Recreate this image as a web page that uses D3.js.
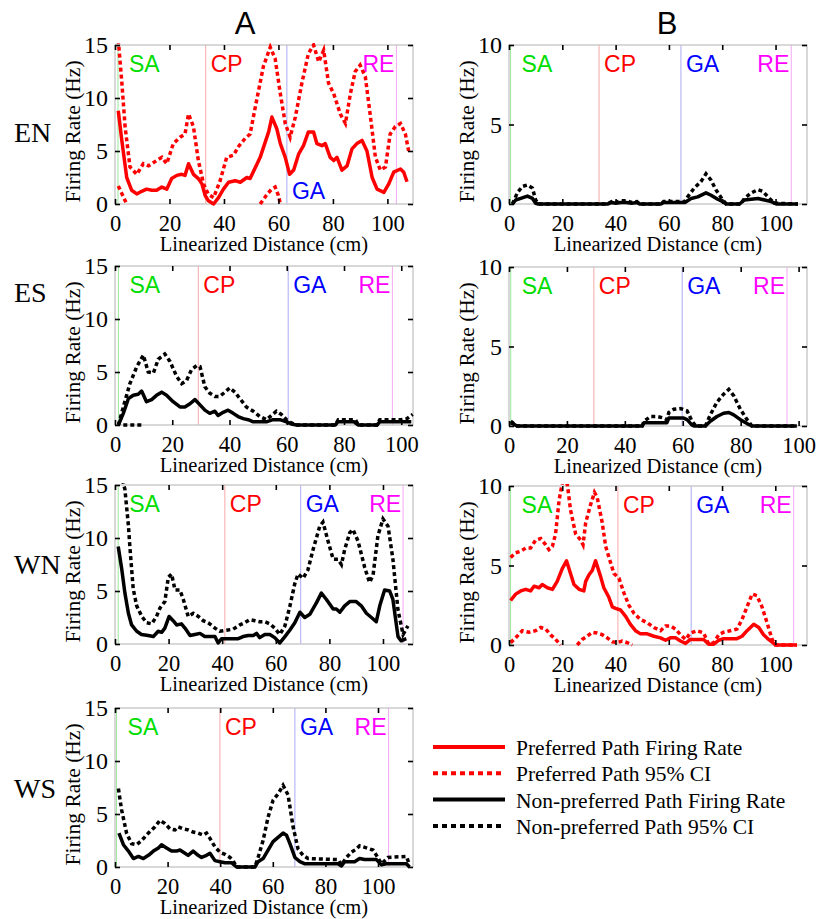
<!DOCTYPE html>
<html>
<head>
<meta charset="utf-8">
<script src="https://cdn.jsdelivr.net/npm/d3@7"></script>
<style>
  body { margin: 0; background: #fff; }
  svg { display: block; }
</style>
</head>
<body>
<div id="chart"></div>
<script>
// values: [distance cm, firing rate Hz]; null = hidden below 0

const regionNames = ["SA", "CP", "GA", "RE"];
const regionColors = ["#00dd00", "#ff0000", "#0000ff", "#ff00ff"];
const regionLineColors = ["#9be89b", "#f6a8a8", "#aaaaf4", "#f4a8f4"];

const xTicks = [0, 20, 40, 60, 80, 100];
const yTicksA = [0, 5, 10, 15];
const yTicksB = [0, 5, 10];

// region boundaries per panel (cm)
const enA_regions = [1.1, 33.3, 63.1, 103.3];
const esA_regions = [1.2, 29.1, 60.5, 96.9];
const wnA_regions = [1.2, 41.0, 69.3, 107.5];
const wsA_regions = [0.6, 39.9, 68.4, 104.0];
const enB_regions = [0.6, 33.8, 64.5, 105.9];
const esB_regions = [0.6, 29.3, 59.8, 96.0];
const wnB_regions = [0.6, 40.9, 68.4, 106.9];

// EN, column A (preferred path)
const enA_rate = [[1.2,8.8],[2.5,6.0],[4.3,2.5],[6.1,1.3],[8,0.95],[9.8,1.2],[11.6,1.4],[13.5,1.3],[15.3,1.3],[17.2,1.6],[19,1.4],[20.8,2.4],[22.7,2.7],[24.5,2.8],[25.7,2.7],[27,3.8],[28.8,2.8],[30.6,2.4],[31.9,1.9],[33.1,0.8],[34.3,0.3],[36.2,0],[38,0.6],[39.8,1.4],[41.7,2.05],[44.1,2.2],[46,2.05],[48.4,2.5],[49.6,2.4],[53.3,4.4],[56.4,6.8],[57.6,8.2],[59.4,7.1],[60.7,5.7],[62.5,4.4],[64.1,2.8],[65.6,3.2],[67.4,4.7],[69.2,5.5],[71,6.8],[72.9,6.8],[74.1,5.7],[76,5.5],[77.2,5.7],[79,4.4],[80.3,4.1],[81.5,4.4],[83.3,3.2],[85.2,3.6],[87,5.2],[88.8,5.7],[90.7,6.0],[92.5,5.0],[94.4,2.5],[96.2,1.4],[98.7,1.1],[100.5,1.9],[102.3,3.0],[104.8,3.3],[106,3.0],[107.2,2.1]];
const enA_upper = [[1.2,15.5],[2.5,11.5],[3.7,7.3],[5.5,3.5],[8,2.8],[10.4,3.8],[12.3,3.6],[15.3,4.1],[17.2,4.4],[19,3.8],[21.4,5.7],[23.9,6.3],[25.7,6.6],[27,8.5],[28.8,7.3],[30.6,4.1],[32.5,1.9],[34.3,0.9],[36.2,0.6],[38.6,2.2],[41,4.4],[43.5,4.6],[45.3,5.4],[47.8,6.2],[49.6,6.6],[52,9.8],[54.5,13],[57,14.8],[58.8,13.7],[60.7,10.4],[62.5,7.6],[64.3,6.3],[66.2,8.2],[68.6,11.4],[71,14.2],[72.9,15],[74.8,13.4],[76.6,14.5],[78.4,11.4],[80.3,10.4],[82.7,8.5],[84.6,7.6],[86.4,10.4],[88.2,12.5],[90,13.1],[91.9,12],[93.8,8.2],[95.6,4.4],[97.4,3.2],[99.3,3.5],[101,6.6],[102.9,7.3],[104.8,7.6],[106.6,6.6],[107.8,5]];
const enA_lower = [[1.2,1.7],[2.5,1.0],[4.3,0],null,[53.3,0],[55.8,0.9],[57.5,1.4],[58.8,1.6],[60,0.8],[60.7,0]];

// ES, column A (non-preferred path)
const esA_rate = [[1.2,0],[2.9,1.1],[4.7,2.5],[6.4,2.8],[8.1,2.9],[9.3,3.2],[11,2.2],[12.8,2.4],[14.5,2.8],[16.3,3.1],[18,2.8],[20.3,2.2],[22.7,1.7],[24.4,1.7],[26.2,2.0],[27.9,2.4],[29.7,1.9],[31.4,1.4],[33.1,1.1],[34.9,1.3],[36,0.9],[37.8,1.2],[39.5,1.4],[41.3,1.1],[43,0.8],[44.8,0.6],[46.5,0.5],[48.3,0.3],[52.9,0.3],[55.2,0.5],[57.6,0.5],[59.9,0.3],[61.6,0.1],[63.4,0],[77,0],[77.8,0.3],[83.5,0.3],[85,0],[91.5,0],[92.5,0.3],[103.5,0.3]];
const esA_upper = [[1.2,0],[2.9,1.7],[5.2,3.9],[7.6,5.5],[9.9,6.6],[11.6,5.0],[13.4,4.9],[15.1,6.2],[17.4,6.7],[19.2,6.0],[21.5,4.6],[23.3,3.9],[25,4.2],[26.7,5.2],[28.5,5.6],[29.7,5.5],[31.4,3.6],[33.1,3.0],[34.9,2.7],[36.6,2.7],[38.4,3.1],[40.1,3.5],[41.9,3.1],[43.6,2.5],[45.9,1.7],[48.3,1.3],[50.6,0.8],[52.9,0.5],[54.7,0.9],[56.4,1.3],[58.1,1.0],[59.9,0.5],[61.6,0.2],[63,0],[77,0],[78,0.5],[84,0.5],[85,0],[91.5,0],[92.5,0.5],[100,0.5],[102,0.6],[104,1.0]];
const esA_lower = [[2.9,0],[10,0]];

// WN, column A (non-preferred path)
const wnA_rate = [[1.2,9.2],[2.5,7.1],[3.7,4.8],[5,2.9],[6.2,1.8],[8.1,1.2],[9.9,0.9],[12.4,0.8],[14.3,0.7],[16.1,1.2],[17.4,1.1],[18.6,1.5],[20.2,2.6],[21.7,2.2],[23,1.8],[24.8,1.9],[26.1,1.5],[28,0.8],[29.8,0.9],[31.7,1.0],[33.5,0.7],[35.4,0.7],[37.3,0.7],[38.5,0.1],[39.8,0.5],[41.6,0.5],[44.1,0.5],[46,0.5],[47.8,0.7],[49.7,0.8],[51.6,0.8],[52.8,1.0],[54,0.6],[55.9,0.9],[57.8,0.9],[59.6,0.6],[61.5,0.1],[63.4,0.7],[65.2,1.3],[67.1,2.0],[69,3.0],[70.8,2.5],[72.7,2.8],[75.2,3.9],[77,4.8],[78.9,4.2],[81.4,3.3],[82.6,3.3],[83.9,3.0],[85.7,3.6],[87.6,4.0],[90,4.0],[91.9,3.6],[93.8,2.9],[95.7,2.5],[97.5,2.1],[98.8,3.6],[100.6,5.1],[102.5,5.0],[103.7,4.2],[105.6,0.7],[106.8,0.3],[108.7,0.5]];
const wnA_upper = [[2.8,15.5],[3.7,14.6],[4.3,13.0],[5,11.2],[5.6,9.0],[6.2,7.1],[6.8,5.2],[8.1,3.6],[10,2.6],[11.8,2.0],[13.7,1.9],[15.5,2.6],[16.8,3.4],[18.6,4.0],[19.9,6.3],[21.1,6.6],[22.4,5.1],[24.2,5.1],[25.5,4.2],[27.3,2.6],[29.2,2.9],[31.1,2.6],[32.9,2.2],[34.8,2.0],[37.3,1.5],[39.1,1.2],[41.6,1.3],[44.1,1.4],[46.6,1.8],[48.4,2.0],[50.3,2.3],[52.2,2.2],[54,2.1],[55.9,2.1],[57.8,1.9],[59.6,1.5],[61.5,0.9],[63.4,1.7],[65.2,3.5],[67.1,5.7],[68.3,6.6],[70.2,6.2],[72,7.0],[73.9,8.9],[76.4,11.1],[77.6,11.5],[79.5,9.7],[81.4,8.0],[83.2,8.0],[84.5,7.5],[85.7,8.9],[87.6,10.5],[88.8,10.8],[90.7,9.7],[93.2,7.2],[95,5.8],[96.3,6.5],[98.1,10.2],[100,11.8],[101.9,11.1],[103.7,8.0],[105.6,3.2],[107.5,0.9],[109.3,1.7]];

// WS, column A (non-preferred path)
const wsA_rate = [[1.5,3.2],[3.2,2.1],[5.1,1.5],[7,0.8],[8.9,1.0],[10.8,0.8],[12.7,1.1],[14.6,1.5],[16.5,1.8],[17.7,2.1],[19.6,1.8],[21.5,1.5],[23.4,1.5],[24.7,1.6],[26.6,1.3],[27.8,1.1],[29.7,1.5],[31.6,1.1],[32.9,0.9],[34.8,1.1],[36.1,1.3],[38,0.6],[39.9,0.5],[41.8,0.4],[44.3,0.4],[46.2,0],[53.2,0],[54.4,0.5],[56.3,0.8],[58.2,1.6],[60.1,2.4],[62,2.8],[63.9,3.2],[65.2,3.0],[66.5,2.2],[68.4,0.9],[70.3,0.5],[72.2,0.3],[84.8,0.3],[86.1,0.1],[87.3,0.5],[91.1,0.5],[93,0.8],[94.9,0.7],[99.4,0.7],[101.3,0.2],[103.2,0.3],[110.8,0.3],[112,0]];
const wsA_upper = [[1.3,7.4],[2.5,5.4],[4.4,3.2],[6.3,2.2],[8.2,2.1],[10.1,2.5],[12.7,3.2],[15.2,3.8],[17.1,4.4],[19,4.1],[20.9,3.6],[22.8,3.5],[24,3.8],[25.9,3.6],[27.8,3.5],[29.7,3.3],[31.6,3.2],[33.5,3.0],[34.8,3.2],[36.1,2.7],[38,1.9],[39.9,1.4],[41.8,1.2],[43.7,0.9],[44.9,0.6],[46.2,0],[53.2,0],[54.4,0.9],[56.3,2.5],[58.2,4.7],[60.1,6.3],[62,6.9],[63.9,7.7],[65.8,6.8],[67.7,3.8],[69.6,1.7],[71.5,1.1],[73.4,0.8],[84.8,0.7],[86.1,0.2],[88,0.9],[89.9,1.4],[91.8,1.7],[93,2.0],[95.6,1.8],[98.1,1.6],[99.4,1.1],[101.3,0.3],[103.8,0.9],[110.8,1.0],[112,0.2]];

// EN, column B (non-preferred path)
const enB_rate = [[1.3,0],[2.5,0.25],[4.4,0.35],[6.9,0.5],[8.8,0.35],[10,0.05],[11,0],[37,0],[38.5,0.1],[40,0.05],[42,0.1],[44,0.1],[46,0.05],[48,0.1],[49,0],[57,0],[58,0.1],[66,0.1],[68.3,0.35],[70.8,0.45],[73.9,0.7],[75.8,0.55],[78.3,0.3],[80.2,0.15],[81.5,0],[86.5,0],[88.3,0.25],[90.9,0.3],[93.4,0.35],[95.9,0.25],[98.4,0.15],[100.3,0],[108.4,0]];
const enB_upper = [[1.3,0],[3.1,0.7],[5,1.1],[6.9,1.2],[8.8,1.0],[10,0.25],[11,0],[37,0],[38.5,0.15],[40,0.1],[42,0.2],[44,0.2],[46,0.1],[48,0.15],[49,0],[57,0],[58,0.15],[66,0.15],[67,0.45],[69.5,1.0],[72,1.4],[73.9,1.9],[75.8,1.5],[77.6,0.9],[80.2,0.25],[81.5,0],[87,0],[88.3,0.35],[90.9,0.7],[93.4,0.9],[95.2,0.8],[97.7,0.35],[99.6,0.05],[108.4,0]];

// ES, column B (non-preferred path)
const esB_rate = [[0.6,0.2],[1.7,0.1],[2.8,0],[46,0],[46.6,0.2],[54.5,0.2],[55.2,0.5],[60.3,0.5],[61.5,0.4],[63.2,0.05],[64,0],[67.8,0],[69.5,0.3],[71.8,0.6],[74.1,0.8],[75.9,0.85],[77.6,0.7],[79.9,0.4],[82.2,0.15],[83.9,0],[99.4,0]];
const esB_upper = [[0.6,0.3],[1.7,0.15],[2.8,0],[46,0],[46.6,0.3],[48.9,0.6],[51.1,0.6],[53.5,0.5],[54.5,0.4],[55.2,0.85],[56.9,1.05],[59.2,1.1],[61.5,0.95],[63.2,0.3],[64.5,0],[67.8,0],[69.5,0.7],[71.8,1.5],[74.1,2.0],[75.9,2.3],[77.6,1.9],[79.9,1.05],[82.2,0.4],[83.9,0],[99.4,0]];

// WN, column B (preferred path)
const wnB_rate = [[0.6,2.8],[2.5,3.2],[4.4,3.4],[6.3,3.5],[8.1,3.4],[9.4,3.7],[11.3,3.6],[12.5,3.8],[14.4,3.6],[16.3,3.5],[18.1,4.0],[20,4.8],[21.6,5.3],[23.1,4.5],[24.4,3.8],[26.3,3.5],[28.1,3.4],[28.8,4.0],[30,4.4],[31.3,4.7],[32.5,5.3],[34.4,4.3],[35.6,3.6],[37.5,3.0],[38.8,2.4],[40,2.3],[41.9,2.2],[43.8,1.8],[45.6,1.3],[47.5,0.9],[49.4,0.7],[51.9,0.7],[54.4,0.55],[56.9,0.45],[58.8,0.3],[60.6,0.45],[62.5,0.45],[64.4,0.25],[66.3,0.1],[68.1,0.35],[73.1,0.35],[75,0.05],[76.9,0.05],[78.8,0.3],[80.6,0.4],[85.6,0.4],[87.5,0.55],[89.4,0.9],[91.9,1.3],[93.8,1.1],[95.6,0.65],[97.5,0.35],[99.4,0.1],[100.6,0],[108.1,0]];
const wnB_upper = [[0.6,5.5],[2.5,5.8],[4.4,5.9],[6.3,6.1],[8.1,6.1],[10,6.6],[11.9,6.7],[13.8,6.3],[15,6.0],[16.3,6.2],[17.5,7.0],[18.8,9.1],[20,10.2],[21.2,10.3],[21.9,10.1],[23.1,8.5],[25,7.0],[26.9,6.6],[27.8,6.3],[28.8,7.7],[30.6,8.8],[32.1,9.6],[33.1,9.3],[35,7.7],[36.3,6.2],[38.1,5.2],[39.4,4.5],[41.3,4.2],[43.1,3.3],[45,2.5],[46.9,2.0],[49.4,1.6],[51.9,1.4],[54.4,1.1],[56.9,0.9],[58.8,1.2],[60.6,1.2],[62.5,1.0],[64.4,0.65],[66.3,0.35],[68.1,0.75],[70.6,0.9],[73.1,0.75],[75,0.05],[76.9,0.15],[78.8,0.65],[80.6,0.8],[83.1,0.9],[85.6,1.0],[87.5,1.6],[89.4,2.4],[91.3,3.2],[93.1,3.1],[95,2.4],[96.9,1.4],[98.8,0.35],[100,0],[108.1,0]];
const wnB_lower = [[0.6,0.15],[2.5,0.45],[5,0.9],[7.5,0.8],[10,0.9],[11.9,1.1],[13.8,1.0],[15.6,0.65],[17.5,0.35],[19.4,0],null,[25.6,0],[27.5,0.35],[29.4,0.55],[31.3,0.8],[33.1,0.75],[35,0.65],[36.9,0.45],[38.8,0.2],[40.6,0.15],[42.5,0.25],[44.4,0.15],[46.3,0]];

const legendLabels = ["Preferred Path Firing Rate", "Preferred Path 95% CI", "Non-preferred Path Firing Rate", "Non-preferred Path 95% CI"];

// ---------------------------------------------------------------

const serif = "'Liberation Serif', 'Times New Roman', serif";
const sans = "'Liberation Sans', Arial, sans-serif";
const RED = "#ff0000", BLACK = "#000000";

const svg = d3.select("#chart").append("svg")
  .attr("width", 820)
  .attr("height", 919);

const panelW = 298, panelH = 159;

const panels = [
  { id: "enA", left: 115, top: 45,  xMax: 109.4, yMax: 15, yTicks: yTicksA, regions: enA_regions, color: RED,   rate: enA_rate, upper: enA_upper, lower: enA_lower, gaLow: true },
  { id: "esA", left: 115, top: 266, xMax: 104.1, yMax: 15, yTicks: yTicksA, regions: esA_regions, color: BLACK, rate: esA_rate, upper: esA_upper, lower: esA_lower },
  { id: "wnA", left: 115, top: 485, xMax: 111.2, yMax: 15, yTicks: yTicksA, regions: wnA_regions, color: BLACK, rate: wnA_rate, upper: wnA_upper, lower: [] },
  { id: "wsA", left: 115, top: 708, xMax: 113.3, yMax: 15, yTicks: yTicksA, regions: wsA_regions, color: BLACK, rate: wsA_rate, upper: wsA_upper, lower: [] },
  { id: "enB", left: 509, top: 45,  xMax: 111.8, yMax: 10, yTicks: yTicksB, regions: enB_regions, color: BLACK, rate: enB_rate, upper: enB_upper, lower: [] },
  { id: "esB", left: 509, top: 267, xMax: 102.9, yMax: 10, yTicks: yTicksB, regions: esB_regions, color: BLACK, rate: esB_rate, upper: esB_upper, lower: [] },
  { id: "wnB", left: 509, top: 486, xMax: 111.9, yMax: 10, yTicks: yTicksB, regions: wnB_regions, color: RED,   rate: wnB_rate, upper: wnB_upper, lower: wnB_lower }
];

panels.forEach(p => {
  const g = svg.append("g").attr("transform", `translate(${p.left},${p.top})`);
  const x = d3.scaleLinear().domain([0, p.xMax]).range([0, panelW]);
  const y = d3.scaleLinear().domain([0, p.yMax]).range([panelH, 0]);

  g.append("clipPath").attr("id", "clip-" + p.id)
    .append("rect").attr("x", -2).attr("y", -2).attr("width", panelW + 4).attr("height", panelH + 4);

  // region boundaries
  g.selectAll(".region").data(p.regions).join("line")
    .attr("x1", d => x(d)).attr("x2", d => x(d))
    .attr("y1", 0).attr("y2", panelH)
    .attr("stroke", (d, i) => regionLineColors[i])
    .attr("stroke-width", 1);

  // region labels
  g.selectAll(".rlabel").data(p.regions).join("text")
    .attr("x", (d, i) => i === 0 ? x(d) + 11 : (i === 3 ? x(d) - 2 : x(d) + 5))
    .attr("y", (d, i) => (i === 2 && p.gaLow) ? panelH - 5 : 27)
    .attr("text-anchor", (d, i) => i === 3 ? "end" : "start")
    .attr("fill", (d, i) => regionColors[i])
    .style("font-family", sans)
    .style("font-size", "23px")
    .text((d, i) => regionNames[i]);

  // box
  g.append("rect")
    .attr("width", panelW).attr("height", panelH)
    .attr("fill", "none").attr("stroke", "#c4c4c4").attr("stroke-width", 1.3);

  const line = d3.line()
    .defined(d => d != null)
    .x(d => x(d[0]))
    .y(d => y(d[1]));

  const plot = g.append("g").attr("clip-path", `url(#clip-${p.id})`);
  [p.upper, p.lower].forEach(arr => {
    if (!arr.length) return;
    plot.append("path").datum(arr)
      .attr("d", line)
      .attr("fill", "none")
      .attr("stroke", p.color)
      .attr("stroke-width", 3.5)
      .attr("stroke-dasharray", "4,3");
  });
  plot.append("path").datum(p.rate)
    .attr("d", line)
    .attr("fill", "none")
    .attr("stroke", p.color)
    .attr("stroke-width", 3.5)
    .attr("stroke-linejoin", "round");

  // axes (inward ticks on all four sides)
  const xb = g.append("g").attr("transform", `translate(0,${panelH})`)
    .call(d3.axisBottom(x).tickValues(xTicks).tickSize(-5).tickPadding(11));
  const xt = g.append("g")
    .call(d3.axisTop(x).tickValues(xTicks).tickSize(-5).tickFormat(""));
  const yl = g.append("g")
    .call(d3.axisLeft(y).tickValues(p.yTicks).tickSize(-5).tickPadding(7));
  const yr = g.append("g").attr("transform", `translate(${panelW},0)`)
    .call(d3.axisRight(y).tickValues(p.yTicks).tickSize(-5).tickFormat(""));

  [xb, xt, yl, yr].forEach(a => {
    a.select(".domain").remove();
    a.selectAll("line").attr("stroke", "#000").attr("stroke-width", 1.6);
  });
  [xb, yl].forEach(a => {
    a.selectAll("text")
      .attr("fill", "#000")
      .style("font-family", serif)
      .style("font-size", a === xb ? "22.5px" : "24px");
  });

  // axis titles
  g.append("text")
    .attr("x", panelW / 2).attr("y", panelH + 47)
    .attr("text-anchor", "middle")
    .style("font-family", serif).style("font-size", "20.5px")
    .text("Linearized Distance (cm)");

  g.append("text")
    .attr("transform", `translate(-35,${panelH / 2 + 7}) rotate(-90)`)
    .attr("text-anchor", "middle")
    .style("font-family", serif).style("font-size", "21.5px")
    .text("Firing Rate (Hz)");
});

// column titles
svg.append("text").attr("x", 245).attr("y", 34).attr("text-anchor", "middle")
  .style("font-family", sans).style("font-size", "31px").text("A");
svg.append("text").attr("x", 667).attr("y", 34).attr("text-anchor", "middle")
  .style("font-family", sans).style("font-size", "31px").text("B");

// row labels
const rowLabels = [["EN", 142], ["ES", 302], ["WN", 574], ["WS", 798]];
svg.selectAll(".row").data(rowLabels).join("text")
  .attr("x", 14).attr("y", d => d[1])
  .style("font-family", serif).style("font-size", "28px")
  .text(d => d[0]);

// legend
const legendStyles = [
  { color: RED, dash: null }, { color: RED, dash: "5,4" },
  { color: BLACK, dash: null }, { color: BLACK, dash: "5,4" }
];
const lg = svg.append("g").attr("transform", "translate(433,747)");
const rows = lg.selectAll("g").data(legendLabels).join("g")
  .attr("transform", (d, i) => `translate(0,${i * 26.3})`);
rows.append("line")
  .attr("x1", 0).attr("x2", 72)
  .attr("stroke", (d, i) => legendStyles[i].color)
  .attr("stroke-width", 4)
  .attr("stroke-dasharray", (d, i) => legendStyles[i].dash);
rows.append("text")
  .attr("x", 83).attr("y", 8)
  .style("font-family", serif).style("font-size", "21.5px")
  .text(d => d);
</script>
</body>
</html>
